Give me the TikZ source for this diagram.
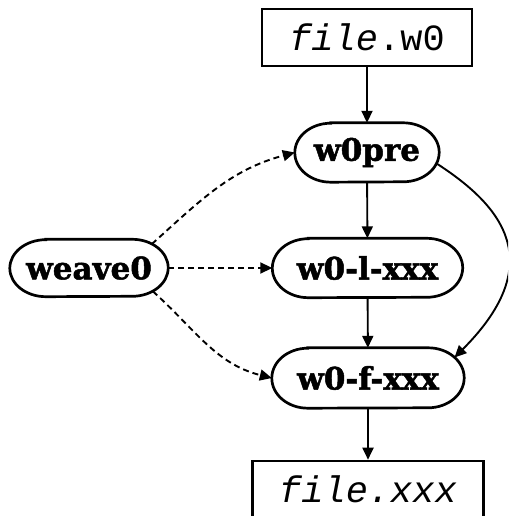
\documentclass[tikz,border=0pt]{standalone}
\usepackage{fontspec}
\newfontfamily\lblfont[FakeBold=1.6]{DejaVu Serif Bold}
\setmonofont{Liberation Mono}
\usetikzlibrary{arrows.meta,calc}
\newcommand\drawpill[2]{%
  \draw[line width=2.7pt] ([xshift=36pt]#1.north west) -- ([xshift=-36pt]#1.north east)
    arc[start angle=90,end angle=-90,x radius=36pt,y radius=#2]
    -- ([xshift=36pt]#1.south west)
    arc[start angle=270,end angle=90,x radius=36pt,y radius=#2] -- cycle;}
\begin{document}
\begin{tikzpicture}[x=1pt,y=1pt,
  proc/.style={rectangle, inner sep=0pt,
    font=\lblfont\fontsize{31}{33}\selectfont},
  filebox/.style={rectangle, draw, line width=2.6pt, inner sep=0pt,
    font=\ttfamily\fontsize{37}{40}\selectfont},
  flow/.style={line width=1.9pt, -{Triangle[length=12pt,width=11pt]}},
  dep/.style={flow, dash pattern=on 6pt off 4pt}]
\useasboundingbox (0,0) rectangle (508,516);
\clip (0,0) rectangle (508,516);

\node[filebox, minimum width=210, minimum height=57] (fw0) at (367,478.5) {\textit{file}.w0};
\node[proc, minimum width=144, minimum height=59] (w0pre) at (367,363.5) {w0pre};
\node[proc, minimum width=190, minimum height=59] (w0l) at (367.5,248) {w0-l-xxx};
\node[proc, minimum width=192, minimum height=60] (w0f) at (368,138) {w0-f-xxx};
\node[proc, minimum width=158, minimum height=57] (weave0) at (89,248) {weave0};
\node[filebox, minimum width=231, minimum height=57] (fxxx) at (368,26.5) {\textit{file.xxx}};

\drawpill{w0pre}{29.5pt}
\drawpill{w0l}{29.5pt}
\drawpill{w0f}{30pt}
\drawpill{weave0}{28.5pt}

\draw[flow] (fw0) -- (w0pre);
\draw[flow] (w0pre) -- (w0l);
\draw[flow] (w0l) -- (w0f);
\draw[flow] (w0f) -- (fxxx);
\draw[flow] ($(w0pre.east)+(-2.6,-11)$) .. controls +(-33:70) and +(45:140) .. ($(w0f.east)+(-9.7,20.5)$);
\draw[dep] ($(weave0.east)+(-16.4,23.9)$) to[out=42,in=195] (w0pre.west);
\draw[dep] (weave0.east) -- (w0l.west);
\draw[dep] ($(weave0.east)+(-15.4,-23.3)$) to[out=-42,in=166] (w0f.west);
\end{tikzpicture}
\end{document}
